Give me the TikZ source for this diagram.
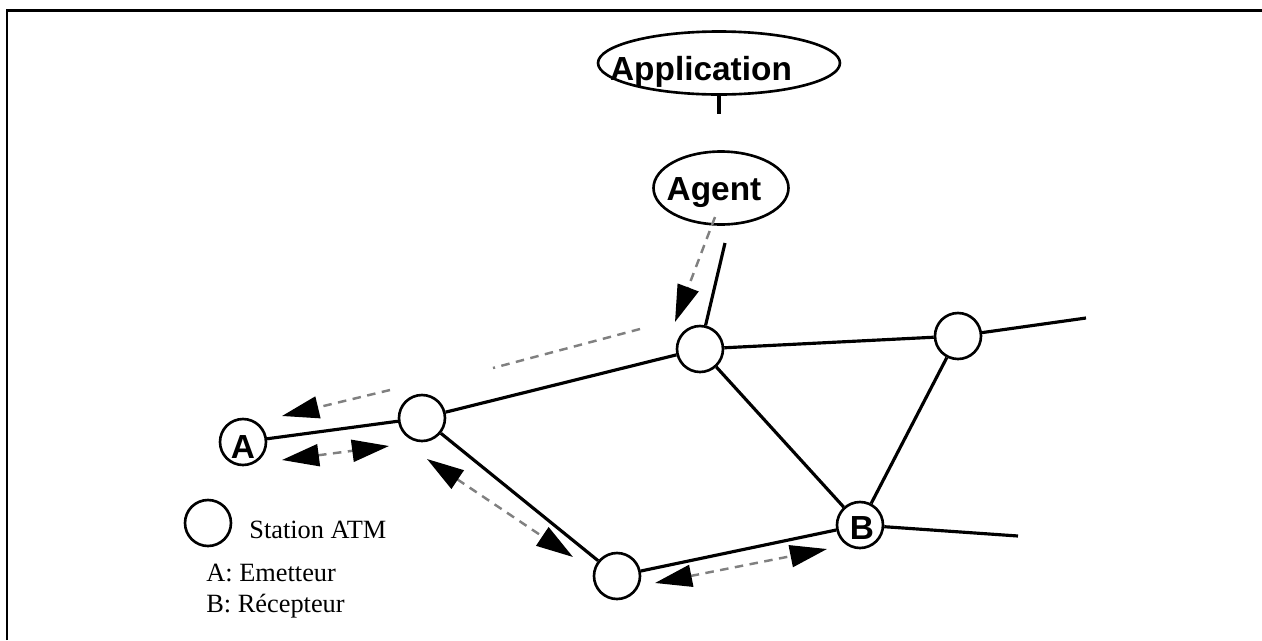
\documentclass[tikz,border=0pt]{standalone}
\usepackage{fontspec}
\setmainfont{Liberation Serif}
\setsansfont{Liberation Sans}
\usetikzlibrary{arrows.meta,shapes.geometric}

\begin{document}
\begin{tikzpicture}[
    x=0.02cm, y=-0.02cm,
    link/.style={line width=1.8pt},
    station/.style={circle, draw, fill=white, line width=1.5pt, minimum size=0.92cm, inner sep=0pt,
        font=\sffamily\bfseries\fontsize{19}{21}\selectfont},
    bubble/.style={ellipse, draw, line width=1.5pt, inner sep=0pt},
    bubbletext/.style={anchor=base, inner sep=0pt,
        font=\sffamily\bfseries\fontsize{19}{21}\selectfont},
    dashgray/.style={draw=gray, line width=1.4pt, dash pattern=on 0.17cm off 0.13cm},
    msg/.style={dashgray, -{Triangle[length=0.74cm, width=0.44cm, color=black]}},
    msgboth/.style={dashgray, {Triangle[length=0.74cm, width=0.44cm, color=black]}-{Triangle[length=0.74cm, width=0.44cm, color=black]}},
    legendtext/.style={font=\fontsize{15}{17}\selectfont, anchor=base west, inner sep=0pt}
]
    \useasboundingbox (0,0) rectangle (1262,640);

    % Frame (top and left only)
    \draw[line width=0.06cm] (7,640) -- (7,10) -- (1262,10);

    % Application and agent
    \node[bubble, minimum width=4.84cm, minimum height=1.26cm] (app) at (719,63) {};
    \node[bubbletext] (apptext) at (701,80) {Application};
    \coordinate (appstub) at (719,114);
    \node[bubble, minimum width=2.7cm, minimum height=1.46cm] (agent) at (721,188) {};
    \node[bubbletext] (agenttext) at (714,200) {Agent};

    % Stations
    \node[station] (A)  at (243,442) {};
    \node[bubbletext] (Atext) at (243,458) {A};
    \node[station] (s1) at (422,418) {};
    \node[station] (s2) at (700,349) {};
    \node[station] (s3) at (958,336) {};
    \node[station] (s4) at (617,576) {};
    \node[station] (B)  at (860,525) {};
    \node[bubbletext] (Btext) at (862,539) {B};

    % Free ends
    \coordinate (agentend) at (725,243);
    \coordinate (eastend) at (1086,318);
    \coordinate (southend) at (1018,536);

    % Links
    \draw[link] (app) -- (appstub);
    \draw[link] (s2) -- (agentend);
    \draw[link] (A) -- (s1);
    \draw[link] (s1) -- (s2);
    \draw[link] (s2) -- (s3);
    \draw[link] (s3) -- (eastend);
    \draw[link] (s2) -- (B);
    \draw[link] (s3) -- (B);
    \draw[link] (B) -- (southend);
    \draw[link] (s1) -- (s4);
    \draw[link] (s4) -- (B);

    % Messages
    \coordinate (agentout) at (715,217);
    \coordinate (agenttip) at (675,322);
    \draw[msg] (agentout) -- (agenttip);

    \coordinate (backa) at (640,329);
    \coordinate (backb) at (493,368);
    \coordinate (backc) at (390,390);
    \coordinate (backtip) at (282,416);
    \draw[dashgray] (backa) -- (backb);
    \draw[msg] (backc) -- (backtip);

    \coordinate (as1a) at (282,460);
    \coordinate (as1b) at (389,446);
    \draw[msgboth] (as1a) -- (as1b);

    \coordinate (s14a) at (427,459);
    \coordinate (s14b) at (573,557);
    \draw[msgboth] (s14a) -- (s14b);

    \coordinate (s4Ba) at (655,583);
    \coordinate (s4Bb) at (827,549);
    \draw[msgboth] (s4Ba) -- (s4Bb);

    % Legend
    \node[station] (legendstation) at (208,523) {};
    \node[legendtext] (legendatm) at (249,538) {Station ATM};
    \node[legendtext] (legenda) at (206,581) {A: Emetteur};
    \node[legendtext] (legendb) at (206,612) {B: Récepteur};

\end{tikzpicture}
\end{document}
